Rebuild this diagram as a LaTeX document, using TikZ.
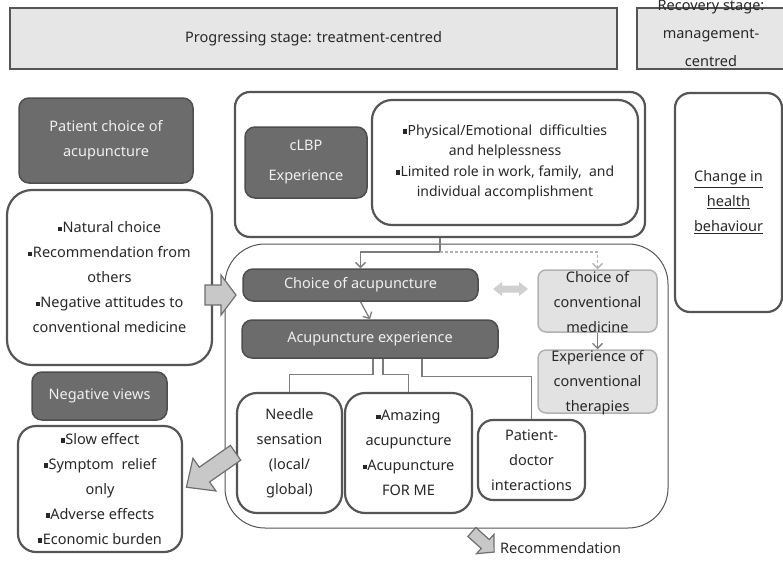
\documentclass[tikz,border=0pt]{standalone}
\usepackage{fontspec}
\setmainfont{Noto Sans}
\usepackage{xcolor}
\usepackage{tikz}
\usetikzlibrary{arrows.meta,positioning}
\definecolor{inkgray}{RGB}{40,40,40}
\definecolor{darkfill}{RGB}{108,108,108}
\definecolor{darkline}{RGB}{78,78,78}
\definecolor{boxline}{RGB}{85,85,85}
\definecolor{stagefill}{RGB}{230,230,230}
\definecolor{lightfill}{RGB}{226,226,226}
\definecolor{lightline}{RGB}{178,178,178}
\definecolor{linkgray}{RGB}{125,125,125}
\definecolor{arrowfill}{RGB}{200,200,200}
\definecolor{dblfill}{RGB}{208,208,208}
\tikzset{
  lbl/.style={align=center, text=inkgray, font=\fontsize{14.5}{25}\selectfont, inner sep=0pt},
  stage/.style={draw=boxline, fill=stagefill, line width=2.5pt, inner sep=0pt},
  dark/.style={draw=darkline, fill=darkfill, rounded corners=10pt, line width=1.5pt, inner sep=0pt,
               align=center, text=white!94!black, font=\fontsize{14.5}{25}\selectfont},
  wbox/.style={draw=boxline, fill=white, rounded corners=20pt, line width=2.2pt, inner sep=0pt,
               align=center, text=inkgray, font=\fontsize{14.5}{25}\selectfont},
  lbox/.style={draw=lightline, fill=lightfill, rounded corners=8pt, line width=1.5pt, inner sep=0pt},
  holder/.style={draw=boxline, line width=1pt, rounded corners=40pt, inner sep=0pt},
  link/.style={linkgray, line width=1.3pt},
  flow/.style={-{Straight Barb[length=5pt,width=10pt]}, link},
  blk/.style={fill=arrowfill, draw=boxline!85, line width=1.2pt, line join=miter},
}
\newcommand{\sqb}{\raisebox{0.25ex}{\rule{4.2pt}{4.2pt}}\kern0.5pt}

\begin{document}
\begin{tikzpicture}[x=1pt, y=-1pt]
  \useasboundingbox (0,0) rectangle (783,560);
  \node[stage, minimum width=607pt, minimum height=61pt] (prog) at (313.5,38.5) {};
  \node[lbl] (progtxt) at (prog) {Progressing stage: treatment-centred};
  \node[stage, minimum width=153pt, minimum height=61pt] (rec) at (713.5,38.5) {};
  \node[lbl, font=\fontsize{14.5}{28}\selectfont] (rectxt) at (711,33.5) {Recovery stage:\\management-\\centred};

  \node[dark, minimum width=174pt, minimum height=85pt] (pchoice) at (106,140.5) {Patient choice of\\acupuncture};
  \node[wbox, rounded corners=25pt, minimum width=205pt, minimum height=175pt] (natural) at (109.5,277.5)
    {\sqb Natural choice\\\sqb Recommendation from\\others\\\sqb Negative attitudes to\\conventional medicine};

  \node[wbox, rounded corners=15pt, minimum width=410pt, minimum height=145pt] (clbpwrap) at (440,164.5) {};
  \node[dark, font=\fontsize{14.5}{30}\selectfont, minimum width=122pt, minimum height=71pt] (clbp) at (306,162.5) {cLBP\\Experience};
  \node[wbox, font=\fontsize{14}{20.5}\selectfont, minimum width=266pt, minimum height=125pt] (burden) at (505,162.5)
    {\sqb Physical/Emotional\ \ difficulties\\and helplessness\\\sqb Limited role in work, family,\ \ and\\individual accomplishment};
  \node[wbox, rounded corners=15pt, minimum width=107pt, minimum height=219pt] (change) at (728.5,202.5)
    {\underline{Change in}\\\underline{health}\\\underline{behaviour}};

  \node[holder, minimum width=443pt, minimum height=284pt] (journey) at (446.5,386) {};
  \node[dark, minimum width=235pt, minimum height=32pt] (choiceacu) at (360.5,285) {Choice of acupuncture};
  \node[dark, minimum width=256pt, minimum height=38pt] (acuexp) at (370,339) {Acupuncture experience};
  \node[lbox, minimum width=119pt, minimum height=62pt] (conv) at (597.5,301) {};
  \node[lbl] (convtxt) at (597.5,302) {Choice of\\conventional\\medicine};
  \node[lbox, minimum width=119pt, minimum height=63pt] (convexp) at (597.5,381.5) {};
  \node[lbl] (convexptxt) at (597.5,382.5) {Experience of\\conventional\\therapies};
  \node[wbox, minimum width=105pt, minimum height=120pt] (needle) at (289.5,453) {Needle\\sensation\\(local/\\global)};
  \node[wbox, minimum width=127pt, minimum height=120pt] (amazing) at (408.5,453) {\sqb Amazing\\acupuncture\\\sqb Acupuncture\\FOR ME};
  \node[wbox, rounded corners=15pt, minimum width=107pt, minimum height=80pt] (pdoc) at (531.5,460) {Patient-\\doctor\\interactions};

  \node[dark, minimum width=135pt, minimum height=48pt] (negviews) at (99.5,396) {Negative views};
  \node[wbox, rounded corners=18pt, minimum width=164pt, minimum height=126pt] (neglist) at (100,489)
    {\sqb Slow effect\\\sqb Symptom\ \ relief\\only\\\sqb Adverse effects\\\sqb Economic burden};
  \node[lbl, anchor=west] (recom) at (500,548) {Recommendation};

  \draw[link] (clbpwrap.south) -- ++(0,14) coordinate (fork);
  \draw[flow] (fork) -| (choiceacu.north);
  \draw[flow, lightline, dash pattern=on 3pt off 2pt] (fork) -| (conv.north);
  \draw[flow] (choiceacu.south) -- (acuexp.north);
  \draw[flow] (conv.south) -- (convexp.north);
  \draw[link] ([xshift=3pt]acuexp.south) -- ++(0,16) -| (needle.north);
  \draw[link] ([xshift=13pt]acuexp.south) -- ++(0,16) -| (amazing.north);
  \draw[link] ([xshift=52pt]acuexp.south) -- ++(0,18) -| (pdoc.north);

  \draw[blk] (205,285) -- (221,285) -- (221,275) -- (236,295) -- (221,315) -- (221,305) -- (205,305) -- cycle;
  \draw[fill=dblfill, draw=none] (493,289) -- (502,282) -- (502,285.5) -- (519,285.5) -- (519,282) -- (528,289)
    -- (519,296) -- (519,292.5) -- (502,292.5) -- (502,296) -- cycle;
  \draw[blk, shift={(211,470)}, rotate=-145] (-30,-9) -- (8,-9) -- (8,-20) -- (30,0) -- (8,20) -- (8,9) -- (-30,9) -- cycle;
  \draw[blk, shift={(483,542)}, rotate=-42] (-15,-6) -- (3,-6) -- (3,-13) -- (15,0) -- (3,13) -- (3,6) -- (-15,6) -- cycle;
\end{tikzpicture}
\end{document}
